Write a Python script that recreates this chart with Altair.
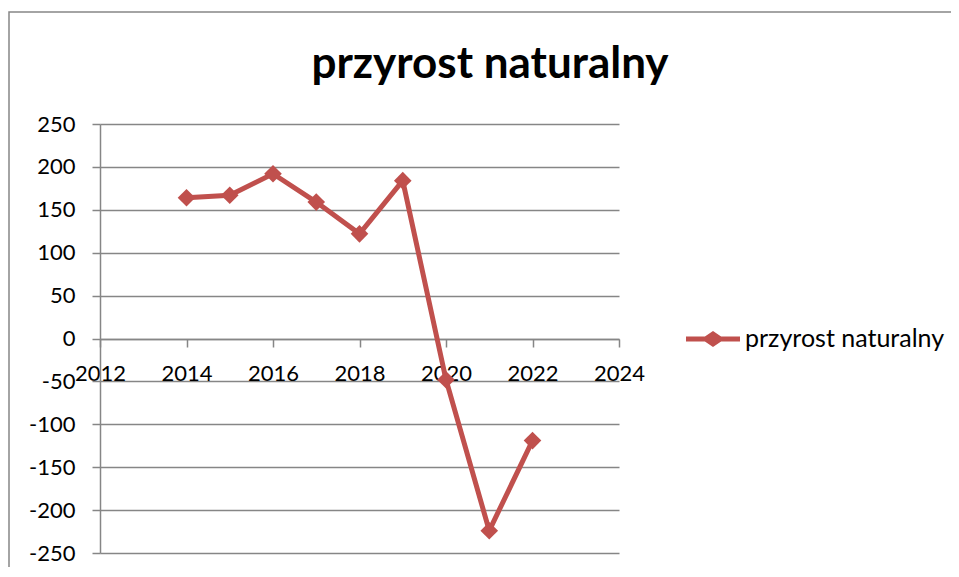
import altair as alt
import pandas as pd

years = [2014, 2015, 2016, 2017, 2018, 2019, 2020, 2021, 2022]
values = [164, 167, 192, 159, 122, 184, -48, -224, -119]
series_name = "przyrost naturalny"
title_text = ["przyrost naturalny"]
x_ticks = [2012, 2014, 2016, 2018, 2020, 2022, 2024]
y_ticks = [-250, -200, -150, -100, -50, 0, 50, 100, 150, 200, 250]

df = pd.DataFrame({"rok": years, "wartosc": values, "seria": [series_name] * len(years)})

RED = "#C0504D"
GRAY = "#868686"
FONT = "Lato"

x = alt.X("rok:Q", scale=alt.Scale(domain=[2012, 2024], nice=False, zero=False),
          axis=alt.Axis(values=x_ticks, labelExpr="'' + datum.value", title=None, grid=False, offset=-214,
                        tickSize=8, tickColor=GRAY, tickWidth=1.5, domainColor=GRAY, domainWidth=1.5,
                        labelFontSize=22, labelFont=FONT, labelColor="black", labelPadding=16,
                        labelFlush=False, labelOverlap=False, labelBound=False))
y = alt.Y("wartosc:Q", scale=alt.Scale(domain=[-250, 250], nice=False),
          axis=alt.Axis(values=y_ticks, labelExpr="'' + datum.value", title=None, grid=True,
                        gridColor=GRAY, gridWidth=1.5,
                        tickSize=8, tickColor=GRAY, tickWidth=1.5, domainColor=GRAY, domainWidth=1.5,
                        labelFontSize=22, labelFont=FONT, labelColor="black", labelPadding=17))

line = alt.Chart(df).mark_line(strokeWidth=5).encode(x=x, y=y, color=alt.value(RED))

legend_path = ("M-1,-0.09L-0.3,-0.09L0,-0.3L0.3,-0.09L1,-0.09L1,0.09L0.3,0.09L0,0.3"
               "L-0.3,0.09L-1,0.09Z")
points = alt.Chart(df).mark_point(shape="diamond", filled=True, size=310, opacity=1).encode(
    x=x, y=y,
    color=alt.Color("seria:N", scale=alt.Scale(range=[RED]),
                    legend=alt.Legend(title=None, orient="none", legendX=586, legendY=188,
                                      symbolType=legend_path, symbolSize=2916, symbolStrokeWidth=0,
                                      labelFontSize=25, labelFont=FONT, labelColor="black",
                                      labelOffset=5, labelLimit=500, symbolOpacity=1)))

border = alt.Chart(pd.DataFrame({"a": [0]})).mark_rect(filled=False, stroke=GRAY, strokeWidth=1.5).encode(
    x=alt.value(-91), x2=alt.value(900), y=alt.value(-112), y2=alt.value(480))

title = alt.Chart(pd.DataFrame({"t": title_text})).mark_text(
    fontSize=44, font=FONT, fontWeight="bold", color="black", align="center", baseline="alphabetic"
).encode(text="t:N", x=alt.value(390), y=alt.value(-46))

chart = alt.layer(border, line, points, title).properties(
    width=519, height=429,
    autosize=alt.AutoSizeParams(type="none"),
    padding={"left": 92, "top": 116, "right": 332, "bottom": 14},
).configure_view(stroke=None)

chart.save("out.html", embed_options={"renderer": "svg", "actions": False})
